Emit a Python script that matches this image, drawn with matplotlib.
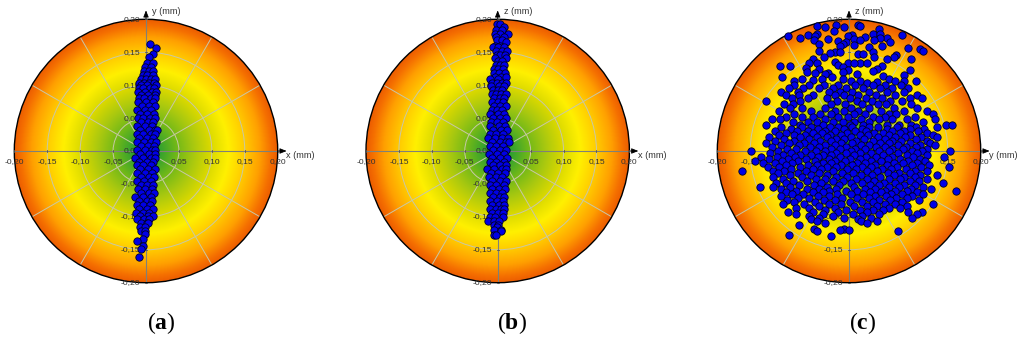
"""Three disc plots of spot positions on a radial colour background."""

import numpy as np
import matplotlib
matplotlib.use("Agg")
import matplotlib.pyplot as plt
from matplotlib.colors import LinearSegmentedColormap
from matplotlib.patches import Circle

plt.rcParams["font.family"] = ["Liberation Sans", "DejaVu Sans"]
plt.rcParams["mathtext.fontset"] = "custom"
plt.rcParams["mathtext.rm"] = "Liberation Serif"
plt.rcParams["mathtext.bf"] = "Liberation Serif:bold"

TICKS = [-0.20, -0.15, -0.10, -0.05, 0.05, 0.10, 0.15, 0.20]
RINGS = [0.05, 0.10, 0.15, 0.20]
SPOKES = [30, 60, 120, 150, 210, 240, 300, 330]

# positions, in micrometres: {vertical: [horizontal, ...]}
rows_a = {
    162: [6], 156: [15], 147: [10], 143: [4], 134: [1, 11], 128: [-1, 7],
    122: [-3, 4, 11], 116: [-5, 2, 10], 110: [-8, 0, 7, 13], 104: [-10, -3, 5, 12],
    100: [-7, 2, 15], 95: [-11, -4, 6, 12], 90: [-12, -1, 9, 15], 85: [-8, 3, 13],
    80: [-11, -3, 7, 14], 74: [-12, 0, 10], 68: [-6, 4, 14], 62: [-13, -2, 8],
    56: [-9, 2, 12], 50: [-12, -4, 6, 14], 44: [-7, 3, 11], 38: [-14, -1, 9],
    32: [-9, 4, 13, 17], 26: [-14, -5, 7, 14], 20: [-10, 1, 11], 14: [-14, -3, 8, 15],
    8: [-8, 3, 12], 2: [-13, -2, 9, 14], -4: [-9, 5, 13], -10: [-17, -4, 7, 13],
    -16: [-10, 1, 11], -22: [-14, -4, 8], -28: [-9, 3, 13], -34: [-13, -2, 9],
    -40: [-7, 5, 12], -46: [-13, -3, 8], -52: [-8, 2, 11], -58: [-12, -1, 9],
    -64: [-7, 4, 12], -70: [-16, -4, 7], -76: [-11, 1, 9], -82: [-14, -5, 6],
    -88: [-10, 1, 10], -94: [-15, -4, 5], -98: [-9, 3, 10], -104: [-13, -3, 4],
    -110: [-8, 1, 3], -116: [-9, -2], -122: [-7, -1], -126: [-2], -134: [-5],
    -136: [-13], -144: [-4], -149: [-8], -161: [-10],
}
rows_b = {
    193: [-1, 3], 189: [10], 183: [-2, 6], 178: [-4, 4, 15], 173: [-3, 10],
    169: [-1, 6], 165: [12], 160: [-4, 4], 158: [-7, 1, 9], 152: [-3, 6, 14],
    146: [-1, 4, 11], 141: [-4, 13], 136: [0, 7], 130: [-3, 3, 9], 124: [-5, 1, 8],
    118: [-6, 2, 11], 112: [-4, 5, 12], 110: [-12, 0], 104: [-8, -1, 7, 12],
    98: [-10, 2, 9], 92: [-7, 0, 6], 86: [-9, -2, 5, 12], 80: [-5, 3, 10],
    74: [-8, 0, 8], 68: [-6, 3, 13], 62: [-9, -1, 7], 56: [-11, 1, 10],
    50: [-7, 4, 13], 44: [-10, -1, 8], 38: [-12, 2, 11], 32: [-7, 5, 14],
    26: [-11, -2, 8], 20: [-14, -4, 6, 15], 14: [-8, 3, 12, 17], 8: [-12, -2, 8],
    2: [-7, 4, 13], -4: [-13, -1, 9], -10: [-8, 4, 14], -16: [-12, -2, 9],
    -22: [-7, 3, 12], -28: [-17, -5, 7, 13], -34: [-10, 1, 11], -40: [-13, -3, 7],
    -46: [-9, 3, 12], -52: [-12, -2, 9], -58: [-8, 2, 11], -64: [-12, -3, 7],
    -70: [-7, 3, 10], -76: [-12, -1, 8], -82: [-8, 2, 10], -88: [-11, -3, 5, 9],
    -94: [-8, 1, 8], -100: [-12, -4, 8], -106: [-14, -6, 2], -112: [-5, 1],
    -115: [-1], -120: [-5, 5], -122: [5], -128: [-6, -3],
}
rows_c_top = {
    192: [-19, 13], 190: [-49, 16], 189: [-36, -7], 186: [45], 182: [-23],
    177: [-49, 37, 47], 176: [-63, 4, 80], 175: [-1], 174: [-93, -52], 173: [25],
    172: [57], 171: [-75, 47], 170: [-32, 8], 169: [-53, 16], 168: [38], 167: [-16],
    166: [-5, 62], 163: [-46, -9], 161: [8], 160: [50], 159: [-13], 158: [31],
    157: [89], 155: [108], 152: [-45, 112], 151: [-21, -14, 37], 149: [-29],
    148: [14], 147: [21], 146: [72], 143: [38, 68], 142: [-38], 140: [94], 139: [-55, 57],
    135: [-21], 134: [-61, -48, 16], 133: [-1, 8, 28], 130: [-16], 129: [-105, -90, 50],
    128: [-9], 126: [-65], 124: [-45, 42], 123: [-1, 92], 122: [37], 120: [-64, -9],
    119: [-52], 118: [-32], 117: [-37, 12], 115: [84], 114: [52], 113: [-101, -26],
    110: [-72, -41, -9], 109: [61], 108: [-54], 107: [-83, 16, 70, 83], 106: [3, 101],
    105: [42], 104: [27],
}
rows_c_mid = {
    100: [-84, -60, -38, -17, 9, 36, 55, 79],
    95: [-91, -70, -45, -24, -4, 21, 47, 66, 90],
    90: [-104, -78, -30, -13, 5, 30, 58, 84],
    85: [-96, -76, -55, -22, -7, 14, 41, 70, 103],
    80: [-86, -63, -33, 1, 26, 50, 92, 111],
    76: [-126, -74, -18, 12, 35, 62, 80],
    71: [-99, -85, -28, -6, 19, 44, 56, 94],
    66: [-90, -72, -37, 3, 30, 68, 104],
    61: [-107, -58, -21, -8, 14, 49, 84, 118],
    56: [-84, -44, -28, 8, 24, 60, 72, 128],
    52: [-96, -71, -54, -16, -1, 36, 55, 100],
    48: [-117, -105, -37, 18, 46, 66, 88, 130],
    44: [-85, -62, -49, -24, -9, 8, 31, 112],
    40: [-126, -74, -40, 1, 22, 58, 76, 94, 147, 156],
}
rows_c_core = {
    36: [-103, -71, -58, -29, -17, 4, 31, 44, 73, 101, 134],
    33: [-88, -47, -8, 19, 57, 92, 114],
    30: [-112, -79, -63, -36, -21, 9, 26, 66, 84, 105],
    27: [-96, -54, -41, -3, 38, 51, 77, 119],
    24: [-107, -84, -67, -29, -12, 16, 29, 61, 93, 128],
    21: [-122, -75, -49, -34, 3, 44, 70, 85, 110, 133],
    18: [-99, -60, -19, -7, 23, 55, 102],
    15: [-113, -83, -44, -28, 11, 36, 66, 79, 118],
    12: [-126, -91, -68, -53, -12, 4, 47, 60, 93, 123],
    9: [-104, -76, -36, -22, 18, 31, 74, 108, 130],
    6: [-117, -59, -45, -5, 41, 55, 87, 101],
    3: [-94, -80, -28, -14, 9, 24, 66, 82, 118],
    0: [-149, -108, -67, -50, -36, 3, 46, 60, 96, 111, 153],
    -3: [-120, -88, -20, -5, 17, 33, 74, 103],
    -6: [-100, -74, -58, -39, -27, 8, 52, 88, 119],
    -9: [-134, -110, -82, -47, -13, 26, 41, 66, 97, 144],
    -12: [-121, -92, -65, -31, 2, 17, 59, 77, 108],
    -15: [-143, -102, -78, -52, -21, -6, 34, 48, 90, 116],
    -18: [-130, -112, -86, -40, -27, 12, 25, 68, 82, 104],
    -21: [-96, -63, -49, -12, 4, 40, 57, 95, 121],
    -24: [-123, -106, -75, -33, -19, 19, 33, 73, 110, 152],
    -27: [-88, -55, -42, -3, 10, 50, 64, 87],
    -30: [-162, -116, -99, -66, -24, 27, 42, 100, 118],
    -33: [-108, -78, -46, -11, 6, 59, 76, 92],
    -36: [-90, -58, -33, 18, 35, 68, 108, 133],
    -39: [-116, -72, -19, -3, 47, 84, 100],
    -42: [-100, -50, -37, 10, 27, 60, 78, 118],
    -45: [-85, -64, -24, -9, 38, 92, 106],
    -48: [-111, -95, -42, 3, 20, 53, 70, 143],
    -51: [-76, -53, -15, 32, 46, 84, 100],
    -54: [-135, -116, -90, -34, 8, 61, 76, 113],
    -57: [-104, -64, -46, -20, 25, 40, 94, 125],
    -60: [-80, -30, -5, 12, 55, 70, 88],
    -61: [162],
    -63: [-96, -55, -40, 32, 48, 103],
    -66: [-86, -70, -18, 3, 22, 64, 80, 113],
    -69: [-103, -47, -30, 40, 56, 95],
    -72: [-78, -60, -10, 12, 30, 72, 88],
    -75: [-94, -38, -22, 46, 62, 106],
    -78: [-84, -52, 2, 20, 36, 80],
    -81: [-100, -68, -30, -12, 54, 70, 127],
    -84: [-46, 8, 28, 42, 88],
    -87: [-80, -60, -22, 60, 78],
    -90: [-36, -4, 16, 36, 52],
    -93: [-92, -54, -16, 28, 89, 111],
    -96: [-80, -40, 6, 46, 103],
    -98: [-60, -24, 20],
    -101: [-46, -8, 34, 96],
    -103: [-57, 14],
    -106: [-48, 18, 42],
    -110: [-36, 27],
    -113: [-76],
    -118: [-53, -8],
    -120: [-14, 0],
    -122: [-48, 74],
    -127: [-91],
    -129: [-28],
}
rows_c = [rows_c_top, rows_c_mid, rows_c_core]

panels = [
    {"cx": 146.0, "rows": [rows_a], "h": "x (mm)", "v": "y (mm)", "tag": "a", "tag_x": 161},
    {"cx": 497.7, "rows": [rows_b], "h": "x (mm)", "v": "z (mm)", "tag": "b", "tag_x": 512},
    {"cx": 849.0, "rows": rows_c, "h": "y (mm)", "v": "z (mm)", "tag": "c", "tag_x": 863},
]

W, H = 1024, 342
CY, RADIUS = 151.0, 131.7

disc_cmap = LinearSegmentedColormap.from_list(
    "disc",
    [
        (0.00, "#189a38"),
        (0.10, "#30a030"),
        (0.23, "#70b818"),
        (0.36, "#a8c810"),
        (0.485, "#d8d800"),
        (0.625, "#fff000"),
        (0.735, "#ffd000"),
        (0.865, "#ffa000"),
        (0.95, "#f57000"),
        (1.00, "#ec5c00"),
    ],
)


def expand(rows):
    """Turn {vertical: [horizontal, ...]} tables into two arrays in mm."""
    xs, ys = [], []
    for table in rows:
        for v, hs in table.items():
            for h in hs:
                xs.append(h / 1000)
                ys.append(v / 1000)
    return np.array(xs), np.array(ys)


def tick_text(v):
    return f"{v:.2f}".replace(".", ",")


def draw_panel(fig, p):
    ax = fig.add_axes([(p["cx"] - RADIUS) / W, 1 - (CY + RADIUS) / H,
                       2 * RADIUS / W, 2 * RADIUS / H])
    ax.set_xlim(-0.2, 0.2)
    ax.set_ylim(-0.2, 0.2)
    ax.set_aspect("equal")
    ax.axis("off")

    # radial background, clipped to the disc
    grid = np.linspace(-0.2, 0.2, 500)
    gx, gy = np.meshgrid(grid, grid)
    im = ax.imshow(np.hypot(gx, gy), extent=(-0.2, 0.2, -0.2, 0.2), origin="lower",
                   cmap=disc_cmap, vmin=0, vmax=0.2, zorder=1)
    im.set_clip_path(Circle((0, 0), 0.2, transform=ax.transData))

    grid_color = "#c8c8a8"
    for r in RINGS[:-1]:
        ax.add_patch(Circle((0, 0), r, fill=False, ec=grid_color, lw=0.7, zorder=2))
    for a in SPOKES:
        t = np.deg2rad(a)
        ax.plot([0, 0.2 * np.cos(t)], [0, 0.2 * np.sin(t)], color=grid_color, lw=0.7, zorder=2)
    ax.add_patch(Circle((0, 0), 0.2, fill=False, ec="black", lw=1.0, zorder=3, clip_on=False))

    # axes through the centre, running out to arrow heads
    ax.plot([-0.2, 0.2], [0, 0], color="#808078", lw=0.8, zorder=2.5, clip_on=False)
    ax.plot([0, 0], [-0.2, 0.2], color="#808078", lw=0.8, zorder=2.5, clip_on=False)
    arrow = dict(arrowstyle="-|>,head_width=0.16,head_length=0.4", color="black", lw=0.6,
                 shrinkA=0, shrinkB=0)
    ax.annotate("", xy=(0.2135, 0), xytext=(0.2, 0), arrowprops=arrow, zorder=3,
                annotation_clip=False)
    ax.annotate("", xy=(0, 0.2135), xytext=(0, 0.2), arrowprops=arrow, zorder=3,
                annotation_clip=False)

    label = dict(fontsize=6.1, color="#333333", zorder=4, clip_on=False)
    for v in TICKS:
        ax.plot([v, v], [-0.0015, 0.0015], color="#555555", lw=0.6, zorder=3, clip_on=False)
        ax.plot([-0.0015, 0.0015], [v, v], color="#555555", lw=0.6, zorder=3, clip_on=False)
        ax.text(v, -0.0165, tick_text(v), ha="center", va="center", **label)
        ax.text(-0.009, v, tick_text(v), ha="right", va="center", **label)
    ax.text(0, -0.0165, tick_text(0), ha="center", va="center", **label)
    ax.text(-0.009, 0, tick_text(0), ha="right", va="center", **label)

    name = dict(fontsize=6.6, color="#333333", va="center", zorder=4, clip_on=False)
    ax.text(0.2125, -0.0075, p["h"], ha="left", **name)
    ax.text(0.0095, 0.2125, p["v"], ha="left", **name)

    xs, ys = expand(p["rows"])
    ax.scatter(xs, ys, s=28, c="#0000e6", edgecolors="#000020", linewidths=0.6,
               zorder=5, clip_on=False)

    tag = rf"($\mathbf{{{p['tag']}}}$)"
    fig.text(p["tag_x"] / W, 1 - 323 / H, tag, fontsize=17, ha="center", va="center",
             family="Liberation Serif", color="black")


fig = plt.figure(figsize=(W / 100, H / 100), dpi=100, facecolor="white")
for panel in panels:
    draw_panel(fig, panel)
fig.savefig("out.png", dpi=100)
plt.close(fig)
